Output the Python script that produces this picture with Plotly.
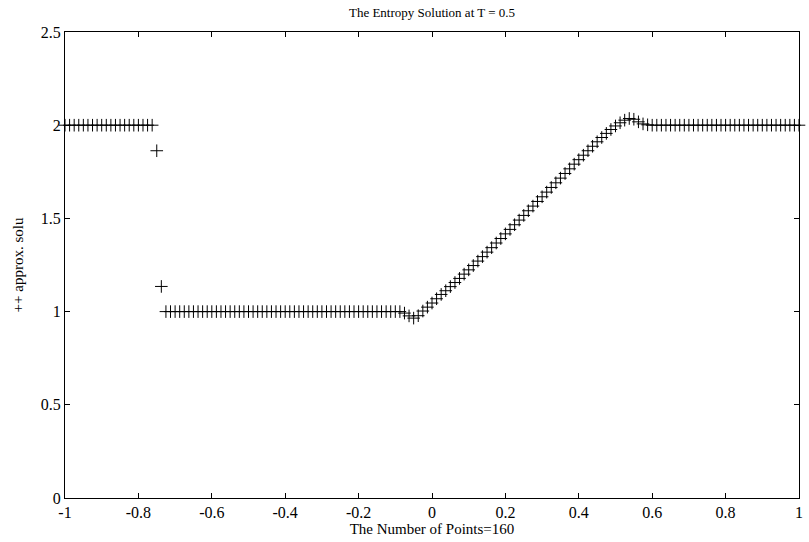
import plotly.graph_objects as go

# Grid: 160 intervals on [-1, 1]
n_intervals = 160
h = 2.0 / n_intervals
x_nodes = [-1.0 + i * h for i in range(n_intervals + 1)]

# Approximate solution values at the nodes
u_left = [2.0] * 20
u_shock = [1.863, 1.135]
u_middle = [1.0] * 52
u_dip = [0.992, 0.977, 0.965, 0.978, 1.003, 1.024, 1.046, 1.069, 1.092]
u_ramp = [1.112, 1.134, 1.156, 1.178, 1.201, 1.224, 1.247, 1.271, 1.295,
          1.319, 1.343, 1.368, 1.392, 1.417, 1.441, 1.466, 1.491, 1.516,
          1.541, 1.566, 1.591, 1.616, 1.641, 1.666, 1.691, 1.716, 1.741,
          1.766, 1.791, 1.815, 1.839, 1.863, 1.887, 1.911, 1.934, 1.956,
          1.977, 1.996]
u_peak = [2.013, 2.027, 2.036, 2.032, 2.018, 2.007, 2.002]
u_right = [2.0] * 33

u_values = u_left + u_shock + u_middle + u_dip + u_ramp + u_peak + u_right

x_ticks = [-1, -0.8, -0.6, -0.4, -0.2, 0, 0.2, 0.4, 0.6, 0.8, 1]
x_tick_text = ["-1", "-0.8", "-0.6", "-0.4", "-0.2", "0", "0.2", "0.4", "0.6", "0.8", "1"]
y_ticks = [0, 0.5, 1, 1.5, 2, 2.5]
y_tick_text = ["0", "0.5", "1", "1.5", "2", "2.5"]

serif = "Liberation Serif, Times New Roman, serif"

fig = go.Figure()
fig.add_trace(go.Scatter(
    x=x_nodes, y=u_values, mode="markers",
    marker=dict(symbol="cross-thin", size=9, line=dict(color="black", width=1)),
    cliponaxis=False, showlegend=False,
))

axis_common = dict(
    showgrid=False, zeroline=False, showline=True, linecolor="black", linewidth=1,
    mirror="ticks", ticks="inside", ticklen=5, tickcolor="black", tickwidth=1,
    tickfont=dict(family=serif, size=16, color="black"),
)

fig.update_layout(
    width=809, height=542,
    margin=dict(l=65, r=6, t=32, b=44),
    paper_bgcolor="white", plot_bgcolor="white",
    title=dict(text="The Entropy Solution at T = 0.5", x=0.5, xref="paper",
               y=1 - 12 / 542, yanchor="middle",
               font=dict(family=serif, size=13, color="black")),
    xaxis=dict(range=[-1, 1], tickvals=x_ticks, ticktext=x_tick_text,
               title=dict(text="The Number of Points=160", standoff=0,
                          font=dict(family=serif, size=15, color="black")),
               **axis_common),
    yaxis=dict(range=[0, 2.5], tickvals=y_ticks, ticktext=y_tick_text,
               title=dict(text="++ approx. solu", standoff=13,
                          font=dict(family=serif, size=15, color="black")),
               **axis_common),
)

fig.write_html("out.html")
